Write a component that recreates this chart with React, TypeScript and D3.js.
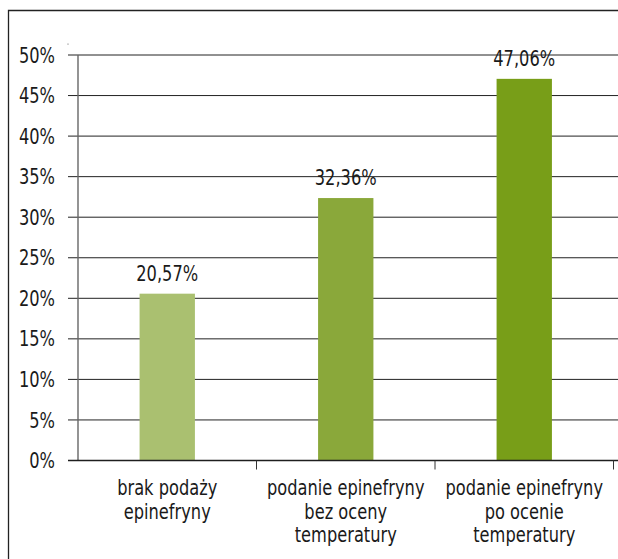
import React from "react";
import * as d3 from "d3";

// Share of patients in each epinephrine group
const categories: string[][] = [
  ["brak podaży", "epinefryny"],
  ["podanie epinefryny", "bez oceny", "temperatury"],
  ["podanie epinefryny", "po ocenie", "temperatury"],
];
const values: number[] = [20.57, 32.36, 47.06];
const valueLabels: string[] = ["20,57%", "32,36%", "47,06%"];
const barColors: string[] = ["#aac070", "#8aa83a", "#789e18"];
const yTicks: number[] = [0, 5, 10, 15, 20, 25, 30, 35, 40, 45, 50];

const W = 618;
const H = 559;
const FONT = "'DejaVu Sans Condensed', 'Liberation Sans Narrow', 'Arial Narrow', sans-serif";
const FS = 21;
const SX = 0.86;

// Condensed text: drawn at (x, y) and squeezed horizontally
function Label({
  x,
  y,
  anchor = "middle",
  dy,
  children,
}: {
  x: number;
  y: number;
  anchor?: "start" | "middle" | "end";
  dy?: string;
  children: React.ReactNode;
}) {
  return (
    <text
      transform={`translate(${x},${y}) scale(${SX},1)`}
      dy={dy}
      textAnchor={anchor}
      fontSize={FS}
      fill="#1a1a1a"
    >
      {children}
    </text>
  );
}

export default function App() {
  const x = d3
    .scaleBand<number>()
    .domain(d3.range(values.length))
    .range([78, 613.5])
    .paddingInner(0.69)
    .paddingOuter(0.345);
  const xOuter = d3.scaleBand<number>().domain(d3.range(values.length)).range([78, 613.5]);
  const y = d3.scaleLinear().domain([0, 50]).range([460.5, 55]);

  return (
    <svg
      width={W}
      height={H}
      style={{ position: "absolute", left: 0, top: 0, fontFamily: FONT }}
    >
      <rect x={0} y={0} width={W} height={H} fill="#fff" />
      {/* outer frame */}
      <path d={`M8.5,${H + 2}V10.5H${W + 2}`} fill="none" stroke="#222" strokeWidth={1.3} />
      <circle cx={68} cy={44} r={0.6} fill="#555" />

      {/* gridlines with outside ticks */}
      {yTicks.map((t) => (
        <g key={t}>
          <line x1={68} x2={W} y1={y(t)} y2={y(t)} stroke="#222" strokeWidth={1} />
          <Label x={55} y={y(t)} anchor="end" dy="0.36em">
            {t}%
          </Label>
        </g>
      ))}

      {/* y axis */}
      <line x1={78} x2={78} y1={y(50)} y2={y(0)} stroke="#666" strokeWidth={1.4} />

      {/* bars */}
      {values.map((v, i) => (
        <rect
          key={i}
          x={x(i)}
          y={y(v)}
          width={x.bandwidth()}
          height={y(0) - y(v)}
          fill={barColors[i]}
        />
      ))}

      {/* x axis */}
      <line x1={68} x2={W} y1={y(0)} y2={y(0)} stroke="#1e1e1e" strokeWidth={1.3} />
      {d3.range(1, values.length + 1).map((i) => {
        const xp = i < values.length ? xOuter(i)! : xOuter.range()[1];
        return <line key={i} x1={xp} x2={xp} y1={y(0)} y2={y(0) + 9} stroke="#333" strokeWidth={1} />;
      })}

      {/* value labels */}
      {values.map((v, i) => (
        <Label key={i} x={x(i)! + x.bandwidth() / 2} y={y(v) - 13}>
          {valueLabels[i]}
        </Label>
      ))}

      {/* category labels */}
      {categories.map((lines, i) =>
        lines.map((l, j) => (
          <Label key={`${i}-${j}`} x={xOuter(i)! + xOuter.bandwidth() / 2} y={495 + j * 23.5}>
            {l}
          </Label>
        ))
      )}
    </svg>
  );
}
